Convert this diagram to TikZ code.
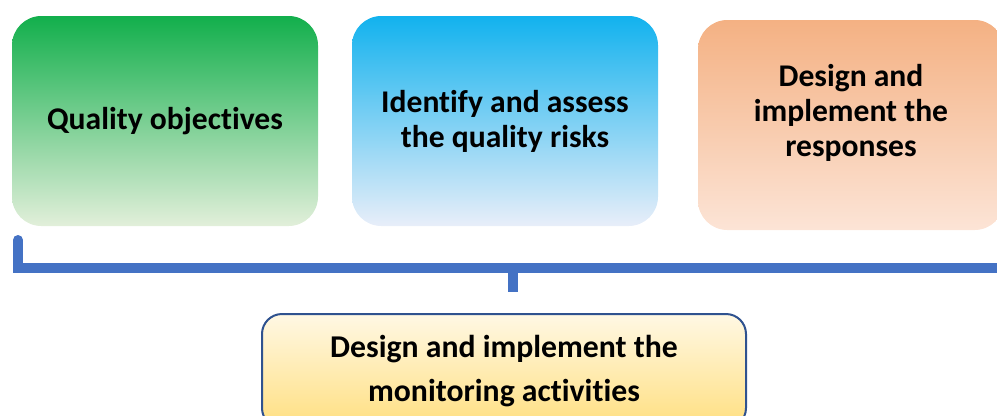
\documentclass[tikz,border=0pt]{standalone}
\usepackage{fontspec}
\setmainfont{Carlito}[Ligatures=NoCommon]
\definecolor{objtop}{HTML}{12AF4C}
\definecolor{objbot}{HTML}{E2EFDA}
\definecolor{risktop}{HTML}{12B2EE}
\definecolor{riskbot}{HTML}{E8EEF9}
\definecolor{resptop}{HTML}{F4B183}
\definecolor{respbot}{HTML}{FCE4D6}
\definecolor{montop}{HTML}{FFF8E4}
\definecolor{monbot}{HTML}{FFDF80}
\definecolor{monline}{HTML}{2F528F}
\definecolor{barblue}{HTML}{4472C4}
\begin{document}
\begin{tikzpicture}[x=0.75pt, y=-0.75pt]
    \tikzset{box/.style={rounded corners=22pt, minimum width=229.5pt, minimum height=157.5pt,
        inner sep=0pt, align=center, font=\fontsize{23.7}{26.25}\selectfont\bfseries}};
    \tikzset{bracket/.style={line width=7.5pt, draw=barblue}};

    \useasboundingbox (0, 0) rectangle (997, 415);
    \clip (0, 0) rectangle (997, 415);

    % Top row
    \node [box, top color=objtop, bottom color=objbot] (obj) at (165, 121) {Quality objectives};
    \node [box, top color=risktop, bottom color=riskbot] (risk) at (505, 121) {Identify and assess\\the quality risks};
    \node [box, top color=resptop, bottom color=respbot] (resp) at (851, 125) {Design and\\implement the\\responses\\[-5pt]};

    % Bottom box
    \node [box, minimum width=363pt, minimum height=85.5pt, rounded corners=15pt,
        font=\fontsize{23.8}{32.5}\selectfont\bfseries, draw=monline, line width=1.5pt,
        top color=montop, bottom color=monbot] (mon) at (504, 371)
        {Design and implement the\\monitoring activities};

    % Bracket
    \path (18, 240) coordinate (brL);
    \path (1003, 268) coordinate (brR);
    \path (513, 268) coordinate (brM);
    \path (513, 292) coordinate (brS);

    \draw [bracket, line cap=round] (brL) |- (brR);
    \draw [bracket] (brM) -- (brS);
  \end{tikzpicture}
\end{document}
